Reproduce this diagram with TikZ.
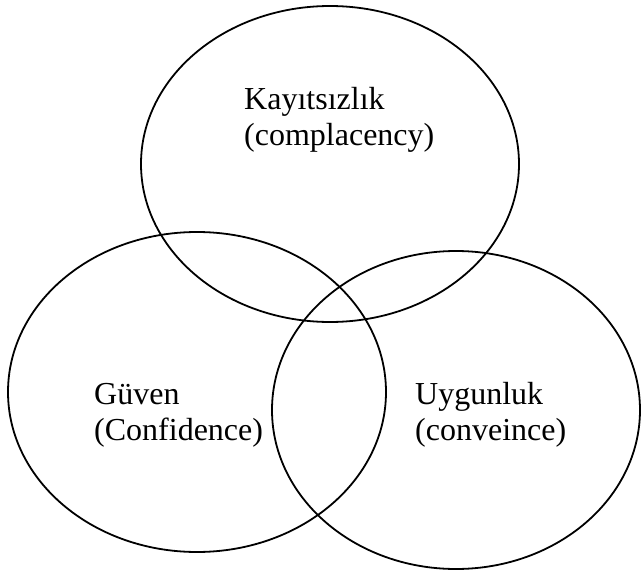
\documentclass[tikz,border=0pt]{standalone}
\usepackage{fontspec}
\setmainfont{Liberation Serif}
\usetikzlibrary{shapes.geometric}
\tikzset{
  setbox/.style={draw=black, line width=1.8pt, ellipse, inner sep=0pt},
  lbl/.style={align=left, inner sep=0pt, anchor=base west,
    font=\fontsize{32}{36}\selectfont}
}
\begin{document}
\begin{tikzpicture}[x=1pt,y=-1pt]
\useasboundingbox[fill=white] (0,0) rectangle (641,573);
\node[setbox, minimum width=378pt, minimum height=316pt] (top) at (330,164) {};
\node[setbox, minimum width=378pt, minimum height=320pt] (left) at (197,392) {};
\node[setbox, minimum width=368pt, minimum height=318pt] (right) at (456,410) {};
\node[lbl] (tlbl) at (244,145) {Kayıtsızlık\\(complacency)};
\node[lbl] (llbl) at (94,440) {Güven\\(Confidence)};
\node[lbl] (rlbl) at (415,440) {Uygunluk\\(conveince)};
\end{tikzpicture}
\end{document}
